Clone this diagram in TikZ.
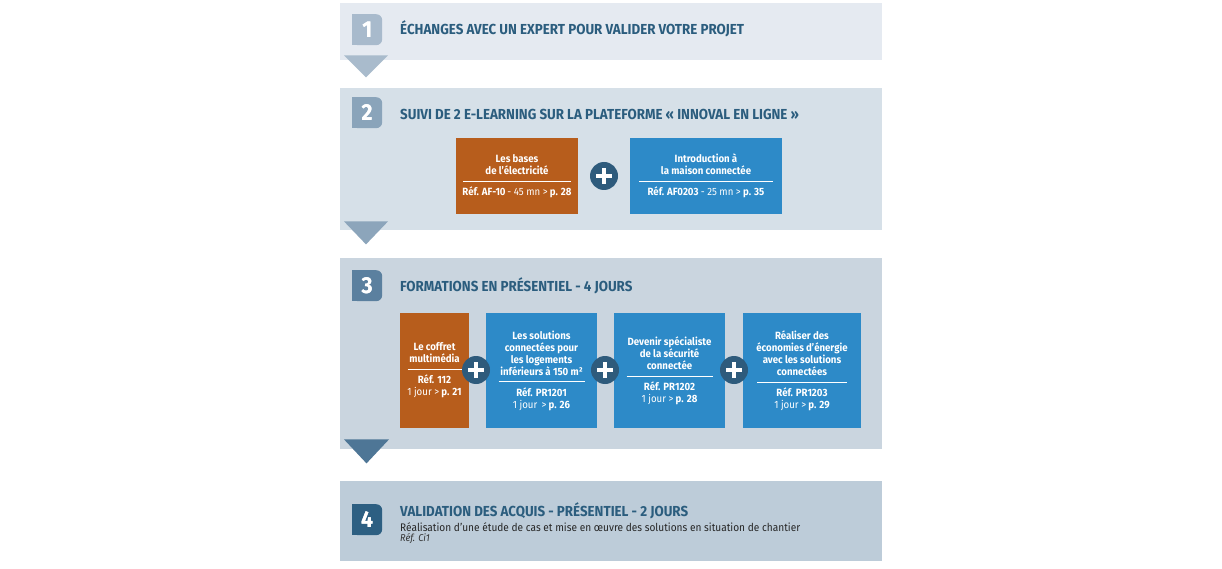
\documentclass[tikz,border=0pt]{standalone}
\usepackage{fontspec}
\setmainfont{Fira Sans}[FakeStretch=0.92]
\usetikzlibrary{positioning}

\definecolor{bandA}{HTML}{E5EAF1}
\definecolor{bandB}{HTML}{D6E0E8}
\definecolor{bandC}{HTML}{CAD5DF}
\definecolor{bandD}{HTML}{BDCCD9}
\definecolor{badgeA}{HTML}{A8BACC}
\definecolor{badgeB}{HTML}{8AA4BA}
\definecolor{badgeC}{HTML}{5B809F}
\definecolor{badgeD}{HTML}{2D5F82}
\definecolor{arrowA}{HTML}{A9BBCC}
\definecolor{arrowB}{HTML}{8CA5BB}
\definecolor{arrowC}{HTML}{4E7696}
\definecolor{titleblue}{HTML}{2B5D7E}
\definecolor{courseorange}{HTML}{B75D1C}
\definecolor{courseblue}{HTML}{2D8AC8}
\definecolor{plusblue}{HTML}{2E5B7C}

\newcommand{\sepline}[1]{\\[-5pt]\rule{#1}{0.6pt}\\[2pt]}
\newcommand{\stepbadge}[4]{%
  \node[num, fill=#3] (num#4) at (#1,#2) {#4};
  \fill[#3] (num#4.north west) rectangle ++(8,8);
  \fill[#3] (num#4.south west) rectangle ++(8,-8);
  \node[num, text=white] at (#1,#2) {#4};}

\begin{document}
\begin{tikzpicture}[x=1pt,y=-1pt,
  band/.style={anchor=north west, inner sep=0pt, minimum width=542},
  title/.style={anchor=west, inner sep=0pt, text=titleblue, font=\bfseries\fontsize{14.5}{16}\selectfont},
  num/.style={anchor=north west, minimum width=30, minimum height=31, rounded corners=6, text=white, inner sep=0pt, font=\bfseries\fontsize{23}{23}\selectfont},
  course/.style={inner sep=0pt, text=white, align=center, font=\bfseries\fontsize{10.5}{12}\selectfont},
  plus/.style={circle, fill=plusblue, minimum size=28, inner sep=0pt,
    path picture={
      \draw[white, line width=4] ([xshift=-8]path picture bounding box.center) -- ([xshift=8]path picture bounding box.center);
      \draw[white, line width=4] ([yshift=-8]path picture bounding box.center) -- ([yshift=8]path picture bounding box.center);}}]
\useasboundingbox[fill=white] (0,0) rectangle (1222,569);

\node[band, fill=bandA, minimum height=57] (band1) at (340,3) {};
\node[band, fill=bandB, minimum height=142] (band2) at (340,88) {};
\node[band, fill=bandC, minimum height=191] (band3) at (340,258) {};
\node[band, fill=bandD, minimum height=80] (band4) at (340,481) {};

\fill[arrowA] ([xshift=4,yshift=5]band1.south west) -- ++(44,0) -- ++(-22,22) -- cycle;
\fill[arrowB] ([xshift=4,yshift=9]band2.south west) -- ++(44,0) -- ++(-22,23) -- cycle;
\fill[arrowC] ([xshift=4,yshift=10]band3.south west) -- ++(45,0) -- ++(-22.5,24) -- cycle;

\stepbadge{352}{14}{badgeA}{1}
\stepbadge{352}{97}{badgeB}{2}
\stepbadge{352}{270}{badgeC}{3}
\stepbadge{352}{504}{badgeD}{4}

\node[title] (t1) at (400,29) {ÉCHANGES AVEC UN EXPERT POUR VALIDER VOTRE PROJET};
\node[title] (t2) at (400,114) {SUIVI DE 2 E-LEARNING SUR LA PLATEFORME « INNOVAL EN LIGNE »};
\node[title] (t3) at (400,286) {FORMATIONS EN PRÉSENTIEL - 4 JOURS};
\node[title] (t4) at (400,511) {VALIDATION DES ACQUIS - PRÉSENTIEL - 2 JOURS};
\node[anchor=west, inner sep=0pt, text=black!85, font=\fontsize{11}{12}\selectfont] (t4a) at (400,527) {Réalisation d’une étude de cas et mise en œuvre des solutions en situation de chantier};
\node[anchor=west, inner sep=0pt, text=black!80, font=\itshape\fontsize{10}{12}\selectfont] (t4b) at (400,539) {Réf. Ci1};

\node[course, fill=courseorange, minimum width=122, minimum height=76] (bases) at (517,176)
  {Les bases\\ de l'électricité\sepline{108pt}Réf. AF-10{\mdseries\,- 45 mn >} p. 28};
\node[plus] (plusA) at (604,176) {};
\node[course, fill=courseblue, minimum width=152, minimum height=76] (intro) at (706,176)
  {Introduction à\\ la maison connectée\sepline{134pt}Réf. AF0203 {\mdseries - 25 mn >} p. 35};

\node[course, fill=courseorange, minimum width=69, minimum height=115] (coffret) at (434.5,370.5)
  {Le coffret\\ multimédia\sepline{54pt}Réf. 112\\ {\mdseries 1 jour >} p. 21};
\node[course, fill=courseblue, minimum width=111, minimum height=115] (pr1201) at (541.5,370.5)
  {Les solutions\\ connectées pour\\ les logements\\ inférieurs à 150 m²\sepline{86pt}Réf. PR1201\\ {\mdseries 1 jour \,>} p. 26};
\node[course, fill=courseblue, minimum width=111, minimum height=115] (pr1202) at (669.5,370.5)
  {Devenir spécialiste\\ de la sécurité\\ connectée\sepline{86pt}Réf. PR1202\\ {\mdseries 1 jour >} p. 28};
\node[course, fill=courseblue, minimum width=118, minimum height=115] (pr1203) at (802,370.5)
  {Réaliser des\\ économies d'énergie\\ avec les solutions\\ connectées\sepline{90pt}Réf. PR1203\\ {\mdseries 1 jour >} p. 29};
\node[plus] (plusB) at (476,370) {};
\node[plus] (plusC) at (605,370) {};
\node[plus] (plusD) at (734,370) {};
\end{tikzpicture}
\end{document}
